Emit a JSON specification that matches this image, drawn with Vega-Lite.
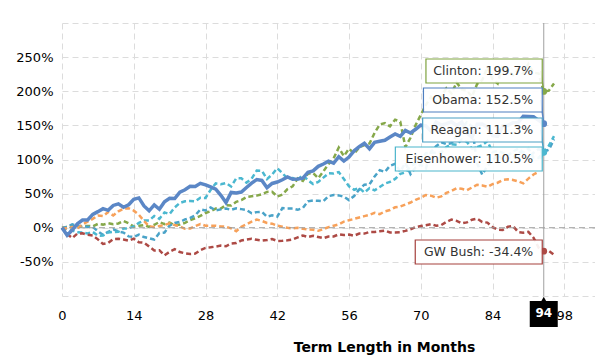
{
  "$schema": "https://vega.github.io/schema/vega-lite/v6.json",
  "width": 533,
  "height": 273,
  "autosize": {"type": "none"},
  "padding": {"left": 62, "top": 23, "right": 0, "bottom": 65},
  "background": "white",
  "config": {
    "view": {"stroke": null},
    "font": "DejaVu Sans",
    "axis": {"domain": false, "ticks": false, "grid": true, "gridColor": "#dcdcdc", "gridDash": [6, 4], "labelFont": "DejaVu Sans", "labelFontSize": 13, "labelColor": "#000", "titleFont": "DejaVu Sans", "titleColor": "#000"},
    "axisX": {"labelPadding": 13},
    "axisY": {"labelPadding": 9}
  },
  "datasets": {
    "labels": [
      {"p": "Clinton", "m": 94, "v": 199.7, "ly": 229.7, "label": "Clinton: 199.7%"},
      {"p": "Obama", "m": 94, "v": 152.5, "ly": 187.2, "label": "Obama: 152.5%"},
      {"p": "Reagan", "m": 94, "v": 111.3, "ly": 143.2, "label": "Reagan: 111.3%"},
      {"p": "Eisenhower", "m": 94, "v": 110.5, "ly": 100.7, "label": "Eisenhower: 110.5%"},
      {"p": "GW Bush", "m": 94, "v": -34.4, "ly": -35.5, "label": "GW Bush: -34.4%"}
    ],
    "series": [
      {"p":"Obama","m":0,"v":0},{"p":"Obama","m":1,"v":-11},{"p":"Obama","m":2,"v":-3.4},{"p":"Obama","m":3,"v":5.7},{"p":"Obama","m":4,"v":11.3},{"p":"Obama","m":5,"v":11.3},{"p":"Obama","m":6,"v":19.6},{"p":"Obama","m":7,"v":23.6},{"p":"Obama","m":8,"v":28},{"p":"Obama","m":9,"v":25.5},
      {"p":"Obama","m":10,"v":32.7},{"p":"Obama","m":11,"v":35},{"p":"Obama","m":12,"v":30},{"p":"Obama","m":13,"v":33.7},{"p":"Obama","m":14,"v":41.6},{"p":"Obama","m":15,"v":43.7},{"p":"Obama","m":16,"v":31.9},{"p":"Obama","m":17,"v":24.8},{"p":"Obama","m":18,"v":33.4},{"p":"Obama","m":19,"v":27.1},
      {"p":"Obama","m":20,"v":38.2},{"p":"Obama","m":21,"v":43.3},{"p":"Obama","m":22,"v":42.9},{"p":"Obama","m":23,"v":52.3},{"p":"Obama","m":24,"v":55.7},{"p":"Obama","m":25,"v":60.7},{"p":"Obama","m":26,"v":60.5},{"p":"Obama","m":27,"v":65.1},{"p":"Obama","m":28,"v":62.9},{"p":"Obama","m":29,"v":59.9},
      {"p":"Obama","m":30,"v":56.5},{"p":"Obama","m":31,"v":47.6},{"p":"Obama","m":32,"v":37},{"p":"Obama","m":33,"v":51.8},{"p":"Obama","m":34,"v":51},{"p":"Obama","m":35,"v":52.3},{"p":"Obama","m":36,"v":58.9},{"p":"Obama","m":37,"v":65.4},{"p":"Obama","m":38,"v":70.5},{"p":"Obama","m":39,"v":69.3},
      {"p":"Obama","m":40,"v":58.7},{"p":"Obama","m":41,"v":64.9},{"p":"Obama","m":42,"v":67},{"p":"Obama","m":43,"v":70.3},{"p":"Obama","m":44,"v":74.4},{"p":"Obama","m":45,"v":71},{"p":"Obama","m":46,"v":71.5},{"p":"Obama","m":47,"v":72.7},{"p":"Obama","m":48,"v":81.4},{"p":"Obama","m":49,"v":83.4},
      {"p":"Obama","m":50,"v":90},{"p":"Obama","m":51,"v":93.4},{"p":"Obama","m":52,"v":97.5},{"p":"Obama","m":53,"v":94.5},{"p":"Obama","m":54,"v":104.1},{"p":"Obama","m":55,"v":97.7},{"p":"Obama","m":56,"v":103.6},{"p":"Obama","m":57,"v":112.7},{"p":"Obama","m":58,"v":118.7},{"p":"Obama","m":59,"v":123.8},
      {"p":"Obama","m":60,"v":115.8},{"p":"Obama","m":61,"v":125.1},{"p":"Obama","m":62,"v":126.7},{"p":"Obama","m":63,"v":128.1},{"p":"Obama","m":64,"v":132.9},{"p":"Obama","m":65,"v":137.4},{"p":"Obama","m":66,"v":133.8},{"p":"Obama","m":67,"v":142.6},{"p":"Obama","m":68,"v":138.8},{"p":"Obama","m":69,"v":144.3},
      {"p":"Obama","m":70,"v":150.3},{"p":"Obama","m":71,"v":149.3},{"p":"Obama","m":72,"v":141.6},{"p":"Obama","m":73,"v":154.8},{"p":"Obama","m":74,"v":150.4},{"p":"Obama","m":75,"v":152.5},{"p":"Obama","m":76,"v":155.2},{"p":"Obama","m":77,"v":149.8},{"p":"Obama","m":78,"v":154.7},{"p":"Obama","m":79,"v":138.8},
      {"p":"Obama","m":80,"v":132.5},{"p":"Obama","m":81,"v":151.8},{"p":"Obama","m":82,"v":151.9},{"p":"Obama","m":83,"v":147.5},{"p":"Obama","m":84,"v":134.9},{"p":"Obama","m":85,"v":134},{"p":"Obama","m":86,"v":149.4},{"p":"Obama","m":87,"v":150.1},{"p":"Obama","m":88,"v":153.9},{"p":"Obama","m":89,"v":154.1},
      {"p":"Obama","m":90,"v":163.2},{"p":"Obama","m":91,"v":162.9},{"p":"Obama","m":92,"v":162.5},{"p":"Obama","m":93,"v":157.4},{"p":"Obama","m":94,"v":152.5},

      {"p":"Clinton","m":0,"v":0},{"p":"Clinton","m":1,"v":1},{"p":"Clinton","m":2,"v":2.9},{"p":"Clinton","m":3,"v":0.3},{"p":"Clinton","m":4,"v":2.6},{"p":"Clinton","m":5,"v":2.7},{"p":"Clinton","m":6,"v":2.1},{"p":"Clinton","m":7,"v":5.6},{"p":"Clinton","m":8,"v":4.6},{"p":"Clinton","m":9,"v":6.6},
      {"p":"Clinton","m":10,"v":5.2},{"p":"Clinton","m":11,"v":6.3},{"p":"Clinton","m":12,"v":9.8},{"p":"Clinton","m":13,"v":6.5},{"p":"Clinton","m":14,"v":1.6},{"p":"Clinton","m":15,"v":2.8},{"p":"Clinton","m":16,"v":4},{"p":"Clinton","m":17,"v":1.3},{"p":"Clinton","m":18,"v":4.4},{"p":"Clinton","m":19,"v":8.4},
      {"p":"Clinton","m":20,"v":5.4},{"p":"Clinton","m":21,"v":7.7},{"p":"Clinton","m":22,"v":3.4},{"p":"Clinton","m":23,"v":4.7},{"p":"Clinton","m":24,"v":7.2},{"p":"Clinton","m":25,"v":11.1},{"p":"Clinton","m":26,"v":14.1},{"p":"Clinton","m":27,"v":17.3},{"p":"Clinton","m":28,"v":21.6},{"p":"Clinton","m":29,"v":24.2},
      {"p":"Clinton","m":30,"v":28.1},{"p":"Clinton","m":31,"v":28.1},{"p":"Clinton","m":32,"v":33.2},{"p":"Clinton","m":33,"v":32.5},{"p":"Clinton","m":34,"v":38},{"p":"Clinton","m":35,"v":40.4},{"p":"Clinton","m":36,"v":45},{"p":"Clinton","m":37,"v":46},{"p":"Clinton","m":38,"v":47.1},{"p":"Clinton","m":39,"v":49.1},
      {"p":"Clinton","m":40,"v":52.5},{"p":"Clinton","m":41,"v":52.8},{"p":"Clinton","m":42,"v":45.8},{"p":"Clinton","m":43,"v":48.6},{"p":"Clinton","m":44,"v":56.6},{"p":"Clinton","m":45,"v":60.7},{"p":"Clinton","m":46,"v":72.5},{"p":"Clinton","m":47,"v":68.8},{"p":"Clinton","m":48,"v":79.2},{"p":"Clinton","m":49,"v":80.2},
      {"p":"Clinton","m":50,"v":72.6},{"p":"Clinton","m":51,"v":82.6},{"p":"Clinton","m":52,"v":93.3},{"p":"Clinton","m":53,"v":101.7},{"p":"Clinton","m":54,"v":117.5},{"p":"Clinton","m":55,"v":105},{"p":"Clinton","m":56,"v":115.9},{"p":"Clinton","m":57,"v":108.4},{"p":"Clinton","m":58,"v":117.7},{"p":"Clinton","m":59,"v":121.2},
      {"p":"Clinton","m":60,"v":123.4},{"p":"Clinton","m":61,"v":139.1},{"p":"Clinton","m":62,"v":151.1},{"p":"Clinton","m":63,"v":153.4},{"p":"Clinton","m":64,"v":148.6},{"p":"Clinton","m":65,"v":158.4},{"p":"Clinton","m":66,"v":155.4},{"p":"Clinton","m":67,"v":118.2},{"p":"Clinton","m":68,"v":131.8},{"p":"Clinton","m":69,"v":150.4},
      {"p":"Clinton","m":70,"v":165.2},{"p":"Clinton","m":71,"v":180.1},{"p":"Clinton","m":72,"v":191.6},{"p":"Clinton","m":73,"v":182.2},{"p":"Clinton","m":74,"v":193.2},{"p":"Clinton","m":75,"v":204.3},{"p":"Clinton","m":76,"v":196.7},{"p":"Clinton","m":77,"v":212.8},{"p":"Clinton","m":78,"v":202.8},{"p":"Clinton","m":79,"v":200.9},
      {"p":"Clinton","m":80,"v":192.3},{"p":"Clinton","m":81,"v":210.6},{"p":"Clinton","m":82,"v":216.5},{"p":"Clinton","m":83,"v":234.8},{"p":"Clinton","m":84,"v":217.8},{"p":"Clinton","m":85,"v":211.4},{"p":"Clinton","m":86,"v":238},{"p":"Clinton","m":87,"v":231},{"p":"Clinton","m":88,"v":223.8},{"p":"Clinton","m":89,"v":231.5},
      {"p":"Clinton","m":90,"v":226.1},{"p":"Clinton","m":91,"v":240},{"p":"Clinton","m":92,"v":227.4},{"p":"Clinton","m":93,"v":225.8},{"p":"Clinton","m":94,"v":199.7},{"p":"Clinton","m":95,"v":200.9},{"p":"Clinton","m":96,"v":211.3},

      {"p":"Reagan","m":0,"v":0},{"p":"Reagan","m":1,"v":1.3},{"p":"Reagan","m":2,"v":5},{"p":"Reagan","m":3,"v":2.5},{"p":"Reagan","m":4,"v":2.3},{"p":"Reagan","m":5,"v":1.3},{"p":"Reagan","m":6,"v":1.1},{"p":"Reagan","m":7,"v":-5.2},{"p":"Reagan","m":8,"v":-10.3},{"p":"Reagan","m":9,"v":-5.9},
      {"p":"Reagan","m":10,"v":-2.5},{"p":"Reagan","m":11,"v":-5.4},{"p":"Reagan","m":12,"v":-7.1},{"p":"Reagan","m":13,"v":-12.7},{"p":"Reagan","m":14,"v":-13.6},{"p":"Reagan","m":15,"v":-10.1},{"p":"Reagan","m":16,"v":-13.6},{"p":"Reagan","m":17,"v":-15.4},{"p":"Reagan","m":18,"v":-17.3},{"p":"Reagan","m":19,"v":-7.7},
      {"p":"Reagan","m":20,"v":-7},{"p":"Reagan","m":21,"v":3.2},{"p":"Reagan","m":22,"v":6.9},{"p":"Reagan","m":23,"v":8.6},{"p":"Reagan","m":24,"v":12.2},{"p":"Reagan","m":25,"v":14.3},{"p":"Reagan","m":26,"v":18.1},{"p":"Reagan","m":27,"v":26.9},{"p":"Reagan","m":28,"v":25.3},{"p":"Reagan","m":29,"v":29.8},
      {"p":"Reagan","m":30,"v":25.5},{"p":"Reagan","m":31,"v":26.9},{"p":"Reagan","m":32,"v":28.2},{"p":"Reagan","m":33,"v":26.2},{"p":"Reagan","m":34,"v":28.4},{"p":"Reagan","m":35,"v":27.3},{"p":"Reagan","m":36,"v":26.1},{"p":"Reagan","m":37,"v":21.2},{"p":"Reagan","m":38,"v":22.9},{"p":"Reagan","m":39,"v":23.5},
      {"p":"Reagan","m":40,"v":16.2},{"p":"Reagan","m":41,"v":18.2},{"p":"Reagan","m":42,"v":16.3},{"p":"Reagan","m":43,"v":28.7},{"p":"Reagan","m":44,"v":28.2},{"p":"Reagan","m":45,"v":28.2},{"p":"Reagan","m":46,"v":26.3},{"p":"Reagan","m":47,"v":29.1},{"p":"Reagan","m":48,"v":38.7},{"p":"Reagan","m":49,"v":39.9},
      {"p":"Reagan","m":50,"v":39.5},{"p":"Reagan","m":51,"v":38.8},{"p":"Reagan","m":52,"v":46.3},{"p":"Reagan","m":53,"v":48.1},{"p":"Reagan","m":54,"v":47.4},{"p":"Reagan","m":55,"v":45.6},{"p":"Reagan","m":56,"v":40.5},{"p":"Reagan","m":57,"v":46.5},{"p":"Reagan","m":58,"v":56.1},{"p":"Reagan","m":59,"v":63.1},
      {"p":"Reagan","m":60,"v":63.5},{"p":"Reagan","m":61,"v":75.2},{"p":"Reagan","m":62,"v":84.4},{"p":"Reagan","m":63,"v":81.8},{"p":"Reagan","m":64,"v":90.9},{"p":"Reagan","m":65,"v":93.6},{"p":"Reagan","m":66,"v":82.3},{"p":"Reagan","m":67,"v":95.2},{"p":"Reagan","m":68,"v":78.6},{"p":"Reagan","m":69,"v":88.3},
      {"p":"Reagan","m":70,"v":92.4},{"p":"Reagan","m":71,"v":86.9},{"p":"Reagan","m":72,"v":111.6},{"p":"Reagan","m":73,"v":119.4},{"p":"Reagan","m":74,"v":125.2},{"p":"Reagan","m":75,"v":122.6},{"p":"Reagan","m":76,"v":123.9},{"p":"Reagan","m":77,"v":134.7},{"p":"Reagan","m":78,"v":146},{"p":"Reagan","m":79,"v":154.6},
      {"p":"Reagan","m":80,"v":148.4},{"p":"Reagan","m":81,"v":94.4},{"p":"Reagan","m":82,"v":77.8},{"p":"Reagan","m":83,"v":90.7},{"p":"Reagan","m":84,"v":98.4},{"p":"Reagan","m":85,"v":106.7},{"p":"Reagan","m":86,"v":99.8},{"p":"Reagan","m":87,"v":101.7},{"p":"Reagan","m":88,"v":102.4},{"p":"Reagan","m":89,"v":111.1},
      {"p":"Reagan","m":90,"v":110},{"p":"Reagan","m":91,"v":101.9},{"p":"Reagan","m":92,"v":109.9},{"p":"Reagan","m":93,"v":115.3},{"p":"Reagan","m":94,"v":111.3},{"p":"Reagan","m":95,"v":114.4},{"p":"Reagan","m":96,"v":129.6},

      {"p":"Eisenhower","m":0,"v":0},{"p":"Eisenhower","m":1,"v":-1.8},{"p":"Eisenhower","m":2,"v":-4.1},{"p":"Eisenhower","m":3,"v":-6.7},{"p":"Eisenhower","m":4,"v":-7},{"p":"Eisenhower","m":5,"v":-8.5},{"p":"Eisenhower","m":6,"v":-6.2},{"p":"Eisenhower","m":7,"v":-11.6},{"p":"Eisenhower","m":8,"v":-11.5},{"p":"Eisenhower","m":9,"v":-7},
      {"p":"Eisenhower","m":10,"v":-6.1},{"p":"Eisenhower","m":11,"v":-6},{"p":"Eisenhower","m":12,"v":-1.1},{"p":"Eisenhower","m":13,"v":-0.9},{"p":"Eisenhower","m":14,"v":2.1},{"p":"Eisenhower","m":15,"v":7.1},{"p":"Eisenhower","m":16,"v":10.7},{"p":"Eisenhower","m":17,"v":10.7},{"p":"Eisenhower","m":18,"v":17.1},{"p":"Eisenhower","m":19,"v":13.1},
      {"p":"Eisenhower","m":20,"v":22.5},{"p":"Eisenhower","m":21,"v":20.1},{"p":"Eisenhower","m":22,"v":29.8},{"p":"Eisenhower","m":23,"v":36.4},{"p":"Eisenhower","m":24,"v":38.9},{"p":"Eisenhower","m":25,"v":39.3},{"p":"Eisenhower","m":26,"v":38.7},{"p":"Eisenhower","m":27,"v":43.9},{"p":"Eisenhower","m":28,"v":43.7},{"p":"Eisenhower","m":29,"v":55.5},
      {"p":"Eisenhower","m":30,"v":65},{"p":"Eisenhower","m":31,"v":63.7},{"p":"Eisenhower","m":32,"v":65.5},{"p":"Eisenhower","m":33,"v":60.5},{"p":"Eisenhower","m":34,"v":72.5},{"p":"Eisenhower","m":35,"v":72.4},{"p":"Eisenhower","m":36,"v":66.1},{"p":"Eisenhower","m":37,"v":71.9},{"p":"Eisenhower","m":38,"v":83.8},{"p":"Eisenhower","m":39,"v":83.4},
      {"p":"Eisenhower","m":40,"v":71.3},{"p":"Eisenhower","m":41,"v":78.1},{"p":"Eisenhower","m":42,"v":87.2},{"p":"Eisenhower","m":43,"v":80.1},{"p":"Eisenhower","m":44,"v":71.9},{"p":"Eisenhower","m":45,"v":72.8},{"p":"Eisenhower","m":46,"v":70.9},{"p":"Eisenhower","m":47,"v":76.9},{"p":"Eisenhower","m":48,"v":69.5},{"p":"Eisenhower","m":49,"v":64},
      {"p":"Eisenhower","m":50,"v":67.2},{"p":"Eisenhower","m":51,"v":73.4},{"p":"Eisenhower","m":52,"v":79.8},{"p":"Eisenhower","m":53,"v":79.6},{"p":"Eisenhower","m":54,"v":81.6},{"p":"Eisenhower","m":55,"v":71.4},{"p":"Eisenhower","m":56,"v":60.8},{"p":"Eisenhower","m":57,"v":55.6},{"p":"Eisenhower","m":58,"v":58.2},{"p":"Eisenhower","m":59,"v":51.6},
      {"p":"Eisenhower","m":60,"v":58.1},{"p":"Eisenhower","m":61,"v":54.8},{"p":"Eisenhower","m":62,"v":59.6},{"p":"Eisenhower","m":63,"v":64.7},{"p":"Eisenhower","m":64,"v":67.1},{"p":"Eisenhower","m":65,"v":71.5},{"p":"Eisenhower","m":66,"v":78.9},{"p":"Eisenhower","m":67,"v":81},{"p":"Eisenhower","m":68,"v":89.8},{"p":"Eisenhower","m":69,"v":94.6},
      {"p":"Eisenhower","m":70,"v":98.9},{"p":"Eisenhower","m":71,"v":109.3},{"p":"Eisenhower","m":72,"v":110.1},{"p":"Eisenhower","m":73,"v":110},{"p":"Eisenhower","m":74,"v":110.2},{"p":"Eisenhower","m":75,"v":118.3},{"p":"Eisenhower","m":76,"v":122.4},{"p":"Eisenhower","m":77,"v":121.6},{"p":"Eisenhower","m":78,"v":129.4},{"p":"Eisenhower","m":79,"v":125.9},
      {"p":"Eisenhower","m":80,"v":115.6},{"p":"Eisenhower","m":81,"v":118},{"p":"Eisenhower","m":82,"v":120.9},{"p":"Eisenhower","m":83,"v":127},{"p":"Eisenhower","m":84,"v":110.8},{"p":"Eisenhower","m":85,"v":112.7},{"p":"Eisenhower","m":86,"v":109.8},{"p":"Eisenhower","m":87,"v":106.1},{"p":"Eisenhower","m":88,"v":111.6},{"p":"Eisenhower","m":89,"v":115.8},
      {"p":"Eisenhower","m":90,"v":110.4},{"p":"Eisenhower","m":91,"v":115.9},{"p":"Eisenhower","m":92,"v":102.9},{"p":"Eisenhower","m":93,"v":102.4},{"p":"Eisenhower","m":94,"v":110.5},{"p":"Eisenhower","m":95,"v":120.3},{"p":"Eisenhower","m":96,"v":134.2},

      {"p":"Truman","m":0,"v":0},{"p":"Truman","m":1,"v":-1},{"p":"Truman","m":2,"v":1},{"p":"Truman","m":3,"v":-1},{"p":"Truman","m":4,"v":5},{"p":"Truman","m":5,"v":9},{"p":"Truman","m":6,"v":13},{"p":"Truman","m":7,"v":18},{"p":"Truman","m":8,"v":17},{"p":"Truman","m":9,"v":23},
      {"p":"Truman","m":10,"v":18},{"p":"Truman","m":11,"v":24},{"p":"Truman","m":12,"v":28},{"p":"Truman","m":13,"v":28.5},{"p":"Truman","m":14,"v":25},{"p":"Truman","m":15,"v":19},{"p":"Truman","m":16,"v":10},{"p":"Truman","m":17,"v":2},{"p":"Truman","m":18,"v":1},{"p":"Truman","m":19,"v":2.5},
      {"p":"Truman","m":20,"v":4},{"p":"Truman","m":21,"v":6.5},{"p":"Truman","m":22,"v":4},{"p":"Truman","m":23,"v":2},{"p":"Truman","m":24,"v":-1.5},{"p":"Truman","m":25,"v":-1},{"p":"Truman","m":26,"v":2.5},{"p":"Truman","m":27,"v":5.5},{"p":"Truman","m":28,"v":3},{"p":"Truman","m":29,"v":3},
      {"p":"Truman","m":30,"v":3},{"p":"Truman","m":31,"v":2},{"p":"Truman","m":32,"v":1.5},{"p":"Truman","m":33,"v":-1},{"p":"Truman","m":34,"v":-5},{"p":"Truman","m":35,"v":1.5},{"p":"Truman","m":36,"v":5},{"p":"Truman","m":37,"v":9},{"p":"Truman","m":38,"v":12},{"p":"Truman","m":39,"v":10},
      {"p":"Truman","m":40,"v":7},{"p":"Truman","m":41,"v":6},{"p":"Truman","m":42,"v":3},{"p":"Truman","m":43,"v":1.5},{"p":"Truman","m":44,"v":0},{"p":"Truman","m":45,"v":-1},{"p":"Truman","m":46,"v":0},{"p":"Truman","m":47,"v":-1.5},{"p":"Truman","m":48,"v":-2.5},{"p":"Truman","m":49,"v":-3},
      {"p":"Truman","m":50,"v":-4.5},{"p":"Truman","m":51,"v":-2},{"p":"Truman","m":52,"v":1},{"p":"Truman","m":53,"v":3},{"p":"Truman","m":54,"v":5},{"p":"Truman","m":55,"v":9},{"p":"Truman","m":56,"v":11},{"p":"Truman","m":57,"v":13},{"p":"Truman","m":58,"v":15},{"p":"Truman","m":59,"v":17},
      {"p":"Truman","m":60,"v":19},{"p":"Truman","m":61,"v":22},{"p":"Truman","m":62,"v":20},{"p":"Truman","m":63,"v":24},{"p":"Truman","m":64,"v":26},{"p":"Truman","m":65,"v":30},{"p":"Truman","m":66,"v":31},{"p":"Truman","m":67,"v":34},{"p":"Truman","m":68,"v":37},{"p":"Truman","m":69,"v":41},
      {"p":"Truman","m":70,"v":44},{"p":"Truman","m":71,"v":48},{"p":"Truman","m":72,"v":47},{"p":"Truman","m":73,"v":44},{"p":"Truman","m":74,"v":46},{"p":"Truman","m":75,"v":51},{"p":"Truman","m":76,"v":54},{"p":"Truman","m":77,"v":58},{"p":"Truman","m":78,"v":57},{"p":"Truman","m":79,"v":55},
      {"p":"Truman","m":80,"v":59},{"p":"Truman","m":81,"v":63},{"p":"Truman","m":82,"v":62},{"p":"Truman","m":83,"v":60},{"p":"Truman","m":84,"v":64},{"p":"Truman","m":85,"v":66},{"p":"Truman","m":86,"v":70},{"p":"Truman","m":87,"v":71},{"p":"Truman","m":88,"v":70},{"p":"Truman","m":89,"v":68},
      {"p":"Truman","m":90,"v":65},{"p":"Truman","m":91,"v":72},{"p":"Truman","m":92,"v":78},{"p":"Truman","m":93,"v":82},

      {"p":"GW Bush","m":0,"v":0},{"p":"GW Bush","m":1,"v":-9.2},{"p":"GW Bush","m":2,"v":-15.1},{"p":"GW Bush","m":3,"v":-8.5},{"p":"GW Bush","m":4,"v":-8.1},{"p":"GW Bush","m":5,"v":-10.4},{"p":"GW Bush","m":6,"v":-11.3},{"p":"GW Bush","m":7,"v":-17},{"p":"GW Bush","m":8,"v":-23.8},{"p":"GW Bush","m":9,"v":-22.4},
      {"p":"GW Bush","m":10,"v":-16.6},{"p":"GW Bush","m":11,"v":-16},{"p":"GW Bush","m":12,"v":-17.3},{"p":"GW Bush","m":13,"v":-19},{"p":"GW Bush","m":14,"v":-16},{"p":"GW Bush","m":15,"v":-21.2},{"p":"GW Bush","m":16,"v":-21.9},{"p":"GW Bush","m":17,"v":-27.5},{"p":"GW Bush","m":18,"v":-33.3},{"p":"GW Bush","m":19,"v":-32.9},
      {"p":"GW Bush","m":20,"v":-40.3},{"p":"GW Bush","m":21,"v":-35.2},{"p":"GW Bush","m":22,"v":-31.5},{"p":"GW Bush","m":23,"v":-35.6},{"p":"GW Bush","m":24,"v":-37.4},{"p":"GW Bush","m":25,"v":-38.4},{"p":"GW Bush","m":26,"v":-37.9},{"p":"GW Bush","m":27,"v":-32.9},{"p":"GW Bush","m":28,"v":-29.5},{"p":"GW Bush","m":29,"v":-28.7},
      {"p":"GW Bush","m":30,"v":-27.5},{"p":"GW Bush","m":31,"v":-26.2},{"p":"GW Bush","m":32,"v":-27.1},{"p":"GW Bush","m":33,"v":-23.1},{"p":"GW Bush","m":34,"v":-22.5},{"p":"GW Bush","m":35,"v":-18.6},{"p":"GW Bush","m":36,"v":-17.2},{"p":"GW Bush","m":37,"v":-16.2},{"p":"GW Bush","m":38,"v":-17.6},{"p":"GW Bush","m":39,"v":-18.9},
      {"p":"GW Bush","m":40,"v":-18},{"p":"GW Bush","m":41,"v":-16.5},{"p":"GW Bush","m":42,"v":-19.3},{"p":"GW Bush","m":43,"v":-19.2},{"p":"GW Bush","m":44,"v":-18.4},{"p":"GW Bush","m":45,"v":-17.3},{"p":"GW Bush","m":46,"v":-14.1},{"p":"GW Bush","m":47,"v":-11.3},{"p":"GW Bush","m":48,"v":-13.5},{"p":"GW Bush","m":49,"v":-11.9},
      {"p":"GW Bush","m":50,"v":-13.6},{"p":"GW Bush","m":51,"v":-15.3},{"p":"GW Bush","m":52,"v":-12.8},{"p":"GW Bush","m":53,"v":-12.8},{"p":"GW Bush","m":54,"v":-9.7},{"p":"GW Bush","m":55,"v":-10.7},{"p":"GW Bush","m":56,"v":-10},{"p":"GW Bush","m":57,"v":-11.6},{"p":"GW Bush","m":58,"v":-8.5},{"p":"GW Bush","m":59,"v":-8.6},
      {"p":"GW Bush","m":60,"v":-6.3},{"p":"GW Bush","m":61,"v":-6.2},{"p":"GW Bush","m":62,"v":-5.2},{"p":"GW Bush","m":63,"v":-4.1},{"p":"GW Bush","m":64,"v":-7},{"p":"GW Bush","m":65,"v":-7},{"p":"GW Bush","m":66,"v":-6.5},{"p":"GW Bush","m":67,"v":-4.6},{"p":"GW Bush","m":68,"v":-2.2},{"p":"GW Bush","m":69,"v":0.9},
      {"p":"GW Bush","m":70,"v":2.5},{"p":"GW Bush","m":71,"v":3.8},{"p":"GW Bush","m":72,"v":5.3},{"p":"GW Bush","m":73,"v":3},{"p":"GW Bush","m":74,"v":4},{"p":"GW Bush","m":75,"v":8.5},{"p":"GW Bush","m":76,"v":12.1},{"p":"GW Bush","m":77,"v":10.1},{"p":"GW Bush","m":78,"v":6.5},{"p":"GW Bush","m":79,"v":7.9},
      {"p":"GW Bush","m":80,"v":11.8},{"p":"GW Bush","m":81,"v":13.4},{"p":"GW Bush","m":82,"v":8.4},{"p":"GW Bush","m":83,"v":7.5},{"p":"GW Bush","m":84,"v":0.9},{"p":"GW Bush","m":85,"v":-2.6},{"p":"GW Bush","m":86,"v":-3.2},{"p":"GW Bush","m":87,"v":1.4},{"p":"GW Bush","m":88,"v":2.5},{"p":"GW Bush","m":89,"v":-6.3},
      {"p":"GW Bush","m":90,"v":-7.2},{"p":"GW Bush","m":91,"v":-6.1},{"p":"GW Bush","m":92,"v":-14.6},{"p":"GW Bush","m":93,"v":-29.1},{"p":"GW Bush","m":94,"v":-34.4},{"p":"GW Bush","m":95,"v":-33.9},{"p":"GW Bush","m":96,"v":-39.5}
    ]
  },
  "layer": [
    {
      "data": {"name": "series"},
      "transform": [{"filter": "datum.p != 'Obama'"}],
      "mark": {"type": "line", "strokeWidth": 2.5, "strokeDash": [5, 3]},
      "encoding": {
        "x": {"field": "m", "type": "quantitative", "scale": {"domain": [0, 104], "nice": false, "zero": false},
          "axis": {"values": [0, 14, 28, 42, 56, 70, 84, 98], "title": "Term Length in Months", "titleFontSize": 14, "titleFontWeight": "bold", "titleX": 322, "titleY": 51, "titleBaseline": "middle", "titleAlign": "center", "labelFlush": false}},
        "y": {"field": "v", "type": "quantitative", "scale": {"domain": [-100, 300], "nice": false, "zero": false},
          "axis": {"tickCount": 8, "labelExpr": "(datum.value < -99 || datum.value > 299) ? '' : (datum.value + '%')", "title": null, "labelOverlap": false, "labelFlush": false}},
        "color": {"field": "p", "type": "nominal", "legend": null,
          "scale": {"domain": ["Obama", "Clinton", "Reagan", "Eisenhower", "Truman", "GW Bush"], "range": ["#5b87c6", "#86a84a", "#4aa3c8", "#4bb8d0", "#f7a15a", "#ad4a45"]}}
      }
    },
    {
      "data": {"values": [{}]},
      "mark": {"type": "rule", "color": "#9a9a9a", "strokeDash": [6, 4], "strokeWidth": 1},
      "encoding": {
        "y": {"datum": 0, "type": "quantitative"}
      }
    },
    {
      "data": {"name": "series"},
      "transform": [{"filter": "datum.p == 'Obama'"}],
      "mark": {"type": "line", "strokeWidth": 3.5, "color": "#5b87c6"},
      "encoding": {
        "x": {"field": "m", "type": "quantitative"},
        "y": {"field": "v", "type": "quantitative"}
      }
    },
    {
      "data": {"values": [{}]},
      "mark": {"type": "rule", "color": "#a0a0a0", "strokeWidth": 1},
      "encoding": {"x": {"datum": 94, "type": "quantitative"}}
    },
    {
      "data": {"name": "labels"},
      "mark": {"type": "rule", "strokeWidth": 1.5, "xOffset": -3},
      "encoding": {
        "x": {"field": "m", "type": "quantitative"},
        "x2": {"field": "m"},
        "y": {"field": "ly", "type": "quantitative"},
        "y2": {"field": "v"},
        "color": {"field": "p", "type": "nominal", "legend": null}
      }
    },
    {
      "data": {"name": "labels"},
      "mark": {"type": "point", "filled": true, "size": 45, "opacity": 1},
      "encoding": {
        "x": {"field": "m", "type": "quantitative"},
        "y": {"field": "v", "type": "quantitative"},
        "color": {"field": "p", "type": "nominal", "legend": null}
      }
    },
    {
      "data": {"name": "labels"},
      "mark": {"type": "rect", "fill": "white", "fillOpacity": 0.92, "strokeWidth": 1.2,
        "xOffset": {"expr": "-(7.8 * length(datum.label) - 3.7 * (length(datum.label) - length(replace(datum.label, regexp('[iltr:. -]', 'g'), ''))) + 3.5 * (length(datum.label) - length(replace(datum.label, regexp('[OGWmw%]', 'g'), ''))) + 18) - 1.5"},
        "x2Offset": -1.5, "yOffset": -12, "y2Offset": 12},
      "encoding": {
        "x": {"field": "m", "type": "quantitative"},
        "x2": {"field": "m"},
        "y": {"field": "ly", "type": "quantitative"},
        "y2": {"field": "ly"},
        "stroke": {"field": "p", "type": "nominal", "legend": null,
          "scale": {"domain": ["Obama", "Clinton", "Reagan", "Eisenhower", "Truman", "GW Bush"], "range": ["#4f7fc0", "#7fa33f", "#4a9fc4", "#4bb5cc", "#f79646", "#a5403d"]}}
      }
    },
    {
      "data": {"name": "labels"},
      "mark": {"type": "text", "align": "right", "baseline": "middle", "dx": -10.5, "fontSize": 12.5, "font": "DejaVu Sans", "color": "#333"},
      "encoding": {
        "x": {"field": "m", "type": "quantitative"},
        "y": {"field": "ly", "type": "quantitative"},
        "text": {"field": "label"}
      }
    },
    {
      "data": {"values": [{}]},
      "mark": {"type": "rect", "color": "black", "xOffset": -14, "x2Offset": 14, "yOffset": 5, "y2Offset": 31},
      "encoding": {
        "x": {"datum": 94, "type": "quantitative"},
        "x2": {"datum": 94},
        "y": {"datum": -100, "type": "quantitative"},
        "y2": {"datum": -100}
      }
    },
    {
      "data": {"values": [{}]},
      "mark": {"type": "point", "shape": "triangle-up", "filled": true, "color": "black", "size": 25, "opacity": 1, "yOffset": 3},
      "encoding": {
        "x": {"datum": 94, "type": "quantitative"},
        "y": {"datum": -100, "type": "quantitative"}
      }
    },
    {
      "data": {"values": [{"t": "94"}]},
      "mark": {"type": "text", "color": "white", "fontWeight": "bold", "fontSize": 12, "font": "DejaVu Sans", "align": "center", "baseline": "middle", "yOffset": 17},
      "encoding": {
        "x": {"datum": 94, "type": "quantitative"},
        "y": {"datum": -100, "type": "quantitative"},
        "text": {"field": "t"}
      }
    }
  ]
}
